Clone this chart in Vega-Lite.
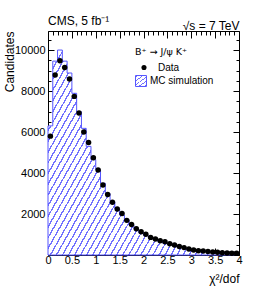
{
  "$schema": "https://vega.github.io/schema/vega-lite/v6.json",
  "width": 191,
  "height": 224,
  "autosize": {"type": "none"},
  "padding": {"left": 48, "top": 31, "right": 27, "bottom": 45},
  "background": "white",
  "config": {
    "view": {"stroke": "black", "strokeWidth": 1},
    "font": "Liberation Sans",
    "axis": {
      "labelFont": "Liberation Sans", "labelFontSize": 11, "labelColor": "black",
      "tickColor": "black", "tickWidth": 1, "domain": false, "grid": false,
      "titleFont": "Liberation Sans", "titleFontSize": 12, "titleFontWeight": "normal", "titleColor": "black",
      "labelOverlap": false, "labelFlush": false
    },
    "legend": {"labelFont": "Liberation Sans", "titleFont": "Liberation Sans", "labelColor": "black", "titleColor": "black", "padding": 0}
  },
  "title": {"text": "CMS, 5 fb⁻¹", "anchor": "start", "frame": "group", "fontSize": 12, "fontWeight": "normal", "font": "Liberation Sans", "color": "black", "offset": -18, "baseline": "alphabetic"},
  "data": {"values": [
    {"lo": 0.0, "x": 0.05, "data": 5800, "mc": 6300},
    {"lo": 0.1, "x": 0.15, "data": 8780, "mc": 9460},
    {"lo": 0.2, "x": 0.25, "data": 9480, "mc": 10000},
    {"lo": 0.3, "x": 0.35, "data": 9150, "mc": 9460},
    {"lo": 0.4, "x": 0.45, "data": 8590, "mc": 8880},
    {"lo": 0.5, "x": 0.55, "data": 7740, "mc": 7890},
    {"lo": 0.6, "x": 0.65, "data": 6930, "mc": 6990},
    {"lo": 0.7, "x": 0.75, "data": 6000, "mc": 6180},
    {"lo": 0.8, "x": 0.85, "data": 5490, "mc": 5300},
    {"lo": 0.9, "x": 0.95, "data": 4740, "mc": 4650},
    {"lo": 1.0, "x": 1.05, "data": 4150, "mc": 4150},
    {"lo": 1.1, "x": 1.15, "data": 3420, "mc": 3500},
    {"lo": 1.2, "x": 1.25, "data": 2950, "mc": 3000},
    {"lo": 1.3, "x": 1.35, "data": 2570, "mc": 2600},
    {"lo": 1.4, "x": 1.45, "data": 2240, "mc": 2250},
    {"lo": 1.5, "x": 1.55, "data": 2030, "mc": 1950},
    {"lo": 1.6, "x": 1.65, "data": 1690, "mc": 1700},
    {"lo": 1.7, "x": 1.75, "data": 1490, "mc": 1460},
    {"lo": 1.8, "x": 1.85, "data": 1280, "mc": 1260},
    {"lo": 1.9, "x": 1.95, "data": 1140, "mc": 1090},
    {"lo": 2.0, "x": 2.05, "data": 1010, "mc": 950},
    {"lo": 2.1, "x": 2.15, "data": 860, "mc": 840},
    {"lo": 2.2, "x": 2.25, "data": 780, "mc": 740},
    {"lo": 2.3, "x": 2.35, "data": 700, "mc": 650},
    {"lo": 2.4, "x": 2.45, "data": 650, "mc": 580},
    {"lo": 2.5, "x": 2.55, "data": 550, "mc": 510},
    {"lo": 2.6, "x": 2.65, "data": 490, "mc": 450},
    {"lo": 2.7, "x": 2.75, "data": 420, "mc": 390},
    {"lo": 2.8, "x": 2.85, "data": 360, "mc": 340},
    {"lo": 2.9, "x": 2.95, "data": 290, "mc": 295},
    {"lo": 3.0, "x": 3.05, "data": 240, "mc": 255},
    {"lo": 3.1, "x": 3.15, "data": 210, "mc": 220},
    {"lo": 3.2, "x": 3.25, "data": 190, "mc": 190},
    {"lo": 3.3, "x": 3.35, "data": 170, "mc": 165},
    {"lo": 3.4, "x": 3.45, "data": 150, "mc": 145},
    {"lo": 3.5, "x": 3.55, "data": 130, "mc": 125},
    {"lo": 3.6, "x": 3.65, "data": 115, "mc": 110},
    {"lo": 3.7, "x": 3.75, "data": 100, "mc": 95},
    {"lo": 3.8, "x": 3.85, "data": 90, "mc": 85},
    {"lo": 3.9, "x": 3.95, "data": 80, "mc": 75}
  ]},
  "layer": [
    {
      "mark": {
        "type": "area", "interpolate": "step-after", "stroke": "#5555ff", "strokeWidth": 1,
        "fill": {"gradient": "linear", "x1": 0, "y1": 0, "x2": 1.17, "y2": 0.725, "stops": [
          {"offset":0.008,"color":"#ffffff"},{"offset":0.008,"color":"#7272ff"},{"offset":0.013,"color":"#7272ff"},{"offset":0.013,"color":"#ffffff"},
          {"offset":0.028,"color":"#ffffff"},{"offset":0.028,"color":"#7272ff"},{"offset":0.033,"color":"#7272ff"},{"offset":0.033,"color":"#ffffff"},
          {"offset":0.048,"color":"#ffffff"},{"offset":0.048,"color":"#7272ff"},{"offset":0.053,"color":"#7272ff"},{"offset":0.053,"color":"#ffffff"},
          {"offset":0.068,"color":"#ffffff"},{"offset":0.068,"color":"#7272ff"},{"offset":0.073,"color":"#7272ff"},{"offset":0.073,"color":"#ffffff"},
          {"offset":0.088,"color":"#ffffff"},{"offset":0.088,"color":"#7272ff"},{"offset":0.093,"color":"#7272ff"},{"offset":0.093,"color":"#ffffff"},
          {"offset":0.108,"color":"#ffffff"},{"offset":0.108,"color":"#7272ff"},{"offset":0.113,"color":"#7272ff"},{"offset":0.113,"color":"#ffffff"},
          {"offset":0.128,"color":"#ffffff"},{"offset":0.128,"color":"#7272ff"},{"offset":0.133,"color":"#7272ff"},{"offset":0.133,"color":"#ffffff"},
          {"offset":0.148,"color":"#ffffff"},{"offset":0.148,"color":"#7272ff"},{"offset":0.153,"color":"#7272ff"},{"offset":0.153,"color":"#ffffff"},
          {"offset":0.168,"color":"#ffffff"},{"offset":0.168,"color":"#7272ff"},{"offset":0.173,"color":"#7272ff"},{"offset":0.173,"color":"#ffffff"},
          {"offset":0.188,"color":"#ffffff"},{"offset":0.188,"color":"#7272ff"},{"offset":0.193,"color":"#7272ff"},{"offset":0.193,"color":"#ffffff"},
          {"offset":0.208,"color":"#ffffff"},{"offset":0.208,"color":"#7272ff"},{"offset":0.213,"color":"#7272ff"},{"offset":0.213,"color":"#ffffff"},
          {"offset":0.228,"color":"#ffffff"},{"offset":0.228,"color":"#7272ff"},{"offset":0.233,"color":"#7272ff"},{"offset":0.233,"color":"#ffffff"},
          {"offset":0.248,"color":"#ffffff"},{"offset":0.248,"color":"#7272ff"},{"offset":0.253,"color":"#7272ff"},{"offset":0.253,"color":"#ffffff"},
          {"offset":0.268,"color":"#ffffff"},{"offset":0.268,"color":"#7272ff"},{"offset":0.273,"color":"#7272ff"},{"offset":0.273,"color":"#ffffff"},
          {"offset":0.288,"color":"#ffffff"},{"offset":0.288,"color":"#7272ff"},{"offset":0.293,"color":"#7272ff"},{"offset":0.293,"color":"#ffffff"},
          {"offset":0.308,"color":"#ffffff"},{"offset":0.308,"color":"#7272ff"},{"offset":0.313,"color":"#7272ff"},{"offset":0.313,"color":"#ffffff"},
          {"offset":0.328,"color":"#ffffff"},{"offset":0.328,"color":"#7272ff"},{"offset":0.333,"color":"#7272ff"},{"offset":0.333,"color":"#ffffff"},
          {"offset":0.348,"color":"#ffffff"},{"offset":0.348,"color":"#7272ff"},{"offset":0.353,"color":"#7272ff"},{"offset":0.353,"color":"#ffffff"},
          {"offset":0.368,"color":"#ffffff"},{"offset":0.368,"color":"#7272ff"},{"offset":0.373,"color":"#7272ff"},{"offset":0.373,"color":"#ffffff"},
          {"offset":0.388,"color":"#ffffff"},{"offset":0.388,"color":"#7272ff"},{"offset":0.393,"color":"#7272ff"},{"offset":0.393,"color":"#ffffff"},
          {"offset":0.408,"color":"#ffffff"},{"offset":0.408,"color":"#7272ff"},{"offset":0.413,"color":"#7272ff"},{"offset":0.413,"color":"#ffffff"},
          {"offset":0.428,"color":"#ffffff"},{"offset":0.428,"color":"#7272ff"},{"offset":0.433,"color":"#7272ff"},{"offset":0.433,"color":"#ffffff"},
          {"offset":0.448,"color":"#ffffff"},{"offset":0.448,"color":"#7272ff"},{"offset":0.453,"color":"#7272ff"},{"offset":0.453,"color":"#ffffff"},
          {"offset":0.468,"color":"#ffffff"},{"offset":0.468,"color":"#7272ff"},{"offset":0.473,"color":"#7272ff"},{"offset":0.473,"color":"#ffffff"},
          {"offset":0.488,"color":"#ffffff"},{"offset":0.488,"color":"#7272ff"},{"offset":0.493,"color":"#7272ff"},{"offset":0.493,"color":"#ffffff"},
          {"offset":0.508,"color":"#ffffff"},{"offset":0.508,"color":"#7272ff"},{"offset":0.513,"color":"#7272ff"},{"offset":0.513,"color":"#ffffff"},
          {"offset":0.528,"color":"#ffffff"},{"offset":0.528,"color":"#7272ff"},{"offset":0.533,"color":"#7272ff"},{"offset":0.533,"color":"#ffffff"},
          {"offset":0.548,"color":"#ffffff"},{"offset":0.548,"color":"#7272ff"},{"offset":0.553,"color":"#7272ff"},{"offset":0.553,"color":"#ffffff"},
          {"offset":0.568,"color":"#ffffff"},{"offset":0.568,"color":"#7272ff"},{"offset":0.573,"color":"#7272ff"},{"offset":0.573,"color":"#ffffff"},
          {"offset":0.588,"color":"#ffffff"},{"offset":0.588,"color":"#7272ff"},{"offset":0.593,"color":"#7272ff"},{"offset":0.593,"color":"#ffffff"},
          {"offset":0.608,"color":"#ffffff"},{"offset":0.608,"color":"#7272ff"},{"offset":0.613,"color":"#7272ff"},{"offset":0.613,"color":"#ffffff"},
          {"offset":0.628,"color":"#ffffff"},{"offset":0.628,"color":"#7272ff"},{"offset":0.633,"color":"#7272ff"},{"offset":0.633,"color":"#ffffff"},
          {"offset":0.648,"color":"#ffffff"},{"offset":0.648,"color":"#7272ff"},{"offset":0.653,"color":"#7272ff"},{"offset":0.653,"color":"#ffffff"},
          {"offset":0.668,"color":"#ffffff"},{"offset":0.668,"color":"#7272ff"},{"offset":0.673,"color":"#7272ff"},{"offset":0.673,"color":"#ffffff"},
          {"offset":0.688,"color":"#ffffff"},{"offset":0.688,"color":"#7272ff"},{"offset":0.693,"color":"#7272ff"},{"offset":0.693,"color":"#ffffff"},
          {"offset":0.708,"color":"#ffffff"},{"offset":0.708,"color":"#7272ff"},{"offset":0.713,"color":"#7272ff"},{"offset":0.713,"color":"#ffffff"},
          {"offset":0.728,"color":"#ffffff"},{"offset":0.728,"color":"#7272ff"},{"offset":0.733,"color":"#7272ff"},{"offset":0.733,"color":"#ffffff"},
          {"offset":0.748,"color":"#ffffff"},{"offset":0.748,"color":"#7272ff"},{"offset":0.753,"color":"#7272ff"},{"offset":0.753,"color":"#ffffff"},
          {"offset":0.768,"color":"#ffffff"},{"offset":0.768,"color":"#7272ff"},{"offset":0.773,"color":"#7272ff"},{"offset":0.773,"color":"#ffffff"},
          {"offset":0.788,"color":"#ffffff"},{"offset":0.788,"color":"#7272ff"},{"offset":0.793,"color":"#7272ff"},{"offset":0.793,"color":"#ffffff"},
          {"offset":0.808,"color":"#ffffff"},{"offset":0.808,"color":"#7272ff"},{"offset":0.813,"color":"#7272ff"},{"offset":0.813,"color":"#ffffff"},
          {"offset":0.828,"color":"#ffffff"},{"offset":0.828,"color":"#7272ff"},{"offset":0.833,"color":"#7272ff"},{"offset":0.833,"color":"#ffffff"},
          {"offset":0.848,"color":"#ffffff"},{"offset":0.848,"color":"#7272ff"},{"offset":0.853,"color":"#7272ff"},{"offset":0.853,"color":"#ffffff"},
          {"offset":0.868,"color":"#ffffff"},{"offset":0.868,"color":"#7272ff"},{"offset":0.873,"color":"#7272ff"},{"offset":0.873,"color":"#ffffff"},
          {"offset":0.888,"color":"#ffffff"},{"offset":0.888,"color":"#7272ff"},{"offset":0.893,"color":"#7272ff"},{"offset":0.893,"color":"#ffffff"},
          {"offset":0.908,"color":"#ffffff"},{"offset":0.908,"color":"#7272ff"},{"offset":0.913,"color":"#7272ff"},{"offset":0.913,"color":"#ffffff"},
          {"offset":0.928,"color":"#ffffff"},{"offset":0.928,"color":"#7272ff"},{"offset":0.933,"color":"#7272ff"},{"offset":0.933,"color":"#ffffff"},
          {"offset":0.948,"color":"#ffffff"},{"offset":0.948,"color":"#7272ff"},{"offset":0.953,"color":"#7272ff"},{"offset":0.953,"color":"#ffffff"},
          {"offset":0.968,"color":"#ffffff"},{"offset":0.968,"color":"#7272ff"},{"offset":0.973,"color":"#7272ff"},{"offset":0.973,"color":"#ffffff"},
          {"offset":0.988,"color":"#ffffff"},{"offset":0.988,"color":"#7272ff"},{"offset":0.993,"color":"#7272ff"},{"offset":0.993,"color":"#ffffff"}
        ]}
      },
      "encoding": {
        "x": {"field": "lo", "type": "quantitative", "scale": {"domain": [0, 4], "nice": false},
          "axis": {"orient": "bottom", "values": [0,0.1,0.2,0.3,0.4,0.5,0.6,0.7,0.8,0.9,1,1.1,1.2,1.3,1.4,1.5,1.6,1.7,1.8,1.9,2,2.1,2.2,2.3,2.4,2.5,2.6,2.7,2.8,2.9,3,3.1,3.2,3.3,3.4,3.5,3.6,3.7,3.8,3.9,4],
            "format": "~g",
            "labelExpr": "abs(datum.value*2-round(datum.value*2))<0.001 ? datum.label : ''",
            "tickSize": {"condition": {"test": "abs(datum.value*2-round(datum.value*2))<0.001", "value": -7}, "value": -4},
            "labelPadding": 6,
            "title": "χ²/dof", "titleAnchor": "end", "titlePadding": 5}},
        "y": {"field": "mc", "type": "quantitative", "scale": {"domain": [0, 10930], "nice": false},
          "axis": {"orient": "left", "values": [0,500,1000,1500,2000,2500,3000,3500,4000,4500,5000,5500,6000,6500,7000,7500,8000,8500,9000,9500,10000,10500],
            "format": "d",
            "labelExpr": "datum.value % 2000 == 0 && datum.value > 0 ? datum.label : ''",
            "tickSize": {"condition": {"test": "datum.value % 2000 == 0", "value": -6}, "value": -3},
            "labelPadding": 9,
            "title": "Candidates", "titleAnchor": "end", "titleX": -35, "titleBaseline": "alphabetic"}},
        "stroke": {"datum": "MC simulation", "scale": {"range": ["#5555ff"]},
          "legend": {"orient": "none", "legendX": 87, "legendY": 44, "title": null, "symbolType": "square", "symbolSize": 120, "symbolFillColor": "#dcdcff", "symbolStrokeWidth": 1, "labelFontSize": 10, "labelOffset": 3}}
      }
    },
    {
      "mark": {"type": "point", "filled": true, "color": "black", "size": 30, "opacity": 1},
      "encoding": {
        "x": {"field": "x", "type": "quantitative", "scale": {"domain": [0, 4], "nice": false},
          "axis": {"orient": "top", "values": [0,0.1,0.2,0.3,0.4,0.5,0.6,0.7,0.8,0.9,1,1.1,1.2,1.3,1.4,1.5,1.6,1.7,1.8,1.9,2,2.1,2.2,2.3,2.4,2.5,2.6,2.7,2.8,2.9,3,3.1,3.2,3.3,3.4,3.5,3.6,3.7,3.8,3.9,4],
            "labels": false,
            "tickSize": {"condition": {"test": "abs(datum.value*2-round(datum.value*2))<0.001", "value": -7}, "value": -4},
            "title": "√s = 7 TeV", "titleAnchor": "end", "titleY": -2, "titleBaseline": "alphabetic"}},
        "y": {"field": "data", "type": "quantitative", "scale": {"domain": [0, 10930], "nice": false},
          "axis": {"orient": "right", "values": [0,500,1000,1500,2000,2500,3000,3500,4000,4500,5000,5500,6000,6500,7000,7500,8000,8500,9000,9500,10000,10500],
            "labels": false,
            "tickSize": {"condition": {"test": "datum.value % 2000 == 0", "value": -6}, "value": -3},
            "title": null}},
        "shape": {"datum": "Data", "scale": {"range": ["circle"]},
          "legend": {"orient": "none", "legendX": 87, "legendY": 16, "title": "B⁺ → J/ψ K⁺", "titleFont": "DejaVu Sans", "titleFontSize": 9.5, "titleFontWeight": "normal", "titlePadding": 6, "symbolSize": 26, "labelFontSize": 10, "labelOffset": 9, "symbolOffset": 4}}
      }
    }
  ],
  "resolve": {"axis": {"x": "independent", "y": "independent"}, "scale": {"stroke": "independent", "shape": "independent"}}
}
